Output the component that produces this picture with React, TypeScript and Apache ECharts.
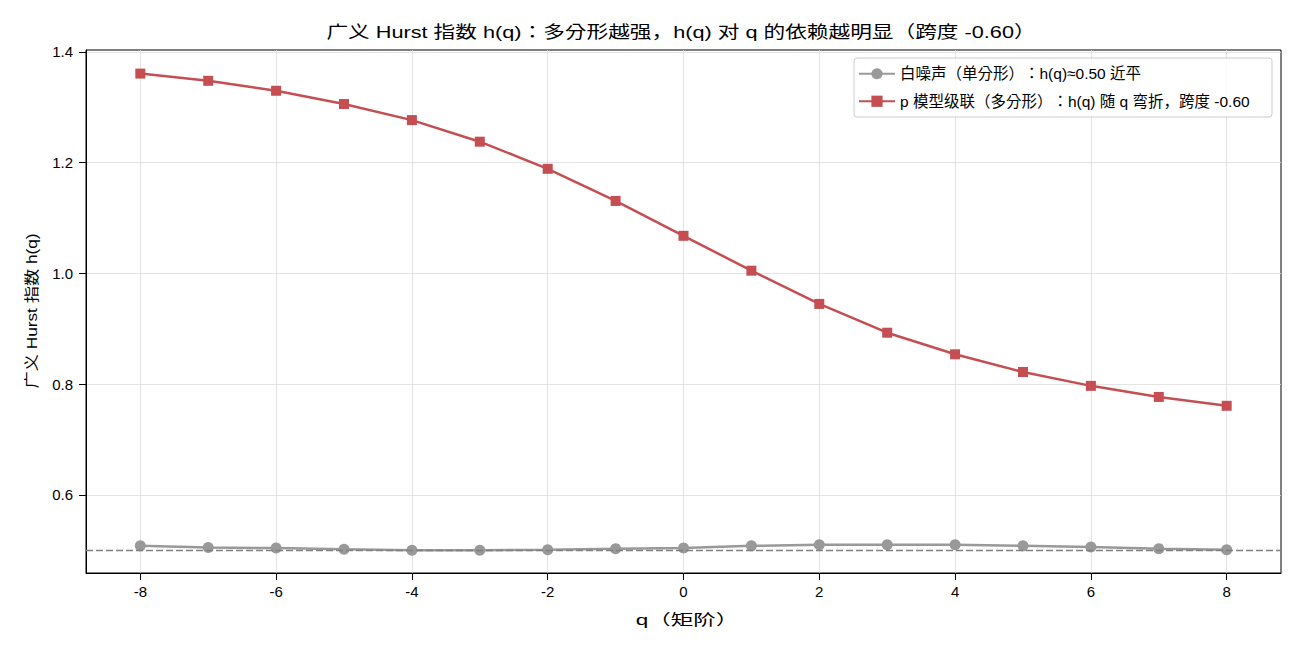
import React, { useEffect, useRef } from "react";
import * as echarts from "echarts";

const qValues = [-8, -7, -6, -5, -4, -3, -2, -1, 0, 1, 2, 3, 4, 5, 6, 7, 8];
const whiteNoise = [0.508, 0.505, 0.504, 0.502, 0.5, 0.5, 0.501, 0.503, 0.504, 0.508, 0.51, 0.51, 0.51, 0.508, 0.506, 0.503, 0.501];
const cascade = [1.361, 1.348, 1.33, 1.306, 1.277, 1.238, 1.189, 1.131, 1.068, 1.005, 0.945, 0.893, 0.854, 0.822, 0.797, 0.777, 0.761];
const xTicks = [-8, -6, -4, -2, 0, 2, 4, 6, 8];
const yTicks = [0.6, 0.8, 1.0, 1.2, 1.4];
const refLevel = 0.5;

const titleText = "广义 Hurst 指数 h(q)：多分形越强，h(q) 对 q 的依赖越明显（跨度 -0.60）";
const xName = "q（矩阶）";
const yName = "广义 Hurst 指数 h(q)";
const nameWhite = "白噪声（单分形）：h(q)≈0.50 近平";
const nameCascade = "p 模型级联（多分形）：h(q) 随 q 弯折，跨度 -0.60";

const FONT = "'Liberation Sans', Arial, 'Noto Sans CJK KR', sans-serif";

export default function App() {
  const ref = useRef<HTMLDivElement>(null);
  useEffect(() => {
    if (!ref.current) return;
    const chart = echarts.init(ref.current, undefined, { renderer: "svg" });
    const gridLeft = 86, gridRight = 19, gridTop = 50, gridBottom = 77;
    chart.setOption({
      animation: false,
      backgroundColor: "#ffffff",
      textStyle: { fontFamily: FONT },
      grid: {
        left: gridLeft, right: gridRight, top: gridTop, bottom: gridBottom,
        show: true, borderColor: "#000", borderWidth: 1, backgroundColor: "transparent",
      },
      graphic: [
        { type: "text", x: 681, y: 32, scaleX: 1.276, style: { text: titleText, font: `17px ${FONT}`, fill: "#000", textAlign: "center", textVerticalAlign: "middle" } },
        { type: "text", x: 687, y: 620, scaleX: 1.5, style: { text: xName, font: `15px ${FONT}`, fill: "#000", textAlign: "center", textVerticalAlign: "middle" } },
        { type: "text", x: 31, y: 311, rotation: Math.PI / 2, scaleX: 1.15, style: { text: yName, font: `15px ${FONT}`, fill: "#000", textAlign: "center", textVerticalAlign: "middle" } },
      ],
      legend: {
        orient: "vertical",
        right: 28, top: 58,
        padding: [8, 7, 8, 4],
        backgroundColor: "rgba(255,255,255,0.85)",
        borderColor: "#cccccc", borderWidth: 1, borderRadius: 3,
        itemWidth: 36, itemHeight: 14, itemGap: 12,
        textStyle: { fontSize: 15.5, lineHeight: 14, width: 365, fontFamily: FONT, color: "#000" },
        data: [nameWhite, nameCascade],
      },
      xAxis: {
        type: "value", min: -8.8, max: 8.8,
        axisLine: { show: true, onZero: false, lineStyle: { color: "#000", width: 1 } },
        axisTick: { show: true, customValues: xTicks, length: 7, lineStyle: { color: "#000" } },
        axisLabel: { customValues: xTicks, fontSize: 15, color: "#000", margin: 11, fontFamily: FONT },
        splitLine: { show: true, customValues: xTicks, lineStyle: { color: "#dddddd", width: 0.8 } },
      },
      yAxis: {
        type: "value", min: 0.459, max: 1.4036,
        axisLine: { show: true, onZero: false, lineStyle: { color: "#000", width: 1 } },
        axisTick: { show: true, customValues: yTicks, length: 7, lineStyle: { color: "#000" } },
        axisLabel: { customValues: yTicks, fontSize: 15, color: "#000", margin: 13, fontFamily: FONT, formatter: (v: number) => v.toFixed(1) },
        splitLine: { show: true, customValues: yTicks, lineStyle: { color: "#dddddd", width: 0.8 } },
      },
      series: [
        {
          name: nameWhite, type: "line",
          data: qValues.map((q, i) => [q, whiteNoise[i]]),
          symbol: "circle", symbolSize: 11,
          itemStyle: { color: "#999999" },
          lineStyle: { color: "#999999", width: 2.5 },
          z: 3,
          markLine: {
            silent: true, symbol: "none", label: { show: false },
            lineStyle: { color: "#808080", type: [7, 3], width: 1.4 },
            data: [{ yAxis: refLevel }],
          },
        },
        {
          name: nameCascade, type: "line",
          data: qValues.map((q, i) => [q, cascade[i]]),
          symbol: "rect", symbolSize: 10,
          itemStyle: { color: "#c44e52" },
          lineStyle: { color: "#c44e52", width: 2.5 },
          z: 4,
        },
      ],
    });
    return () => chart.dispose();
  }, []);
  return (
    <div
      ref={ref}
      style={{ width: 1300, height: 650, position: "absolute", left: 0, top: 0, textSpacingTrim: "space-all" } as any}
    />
  );
}
